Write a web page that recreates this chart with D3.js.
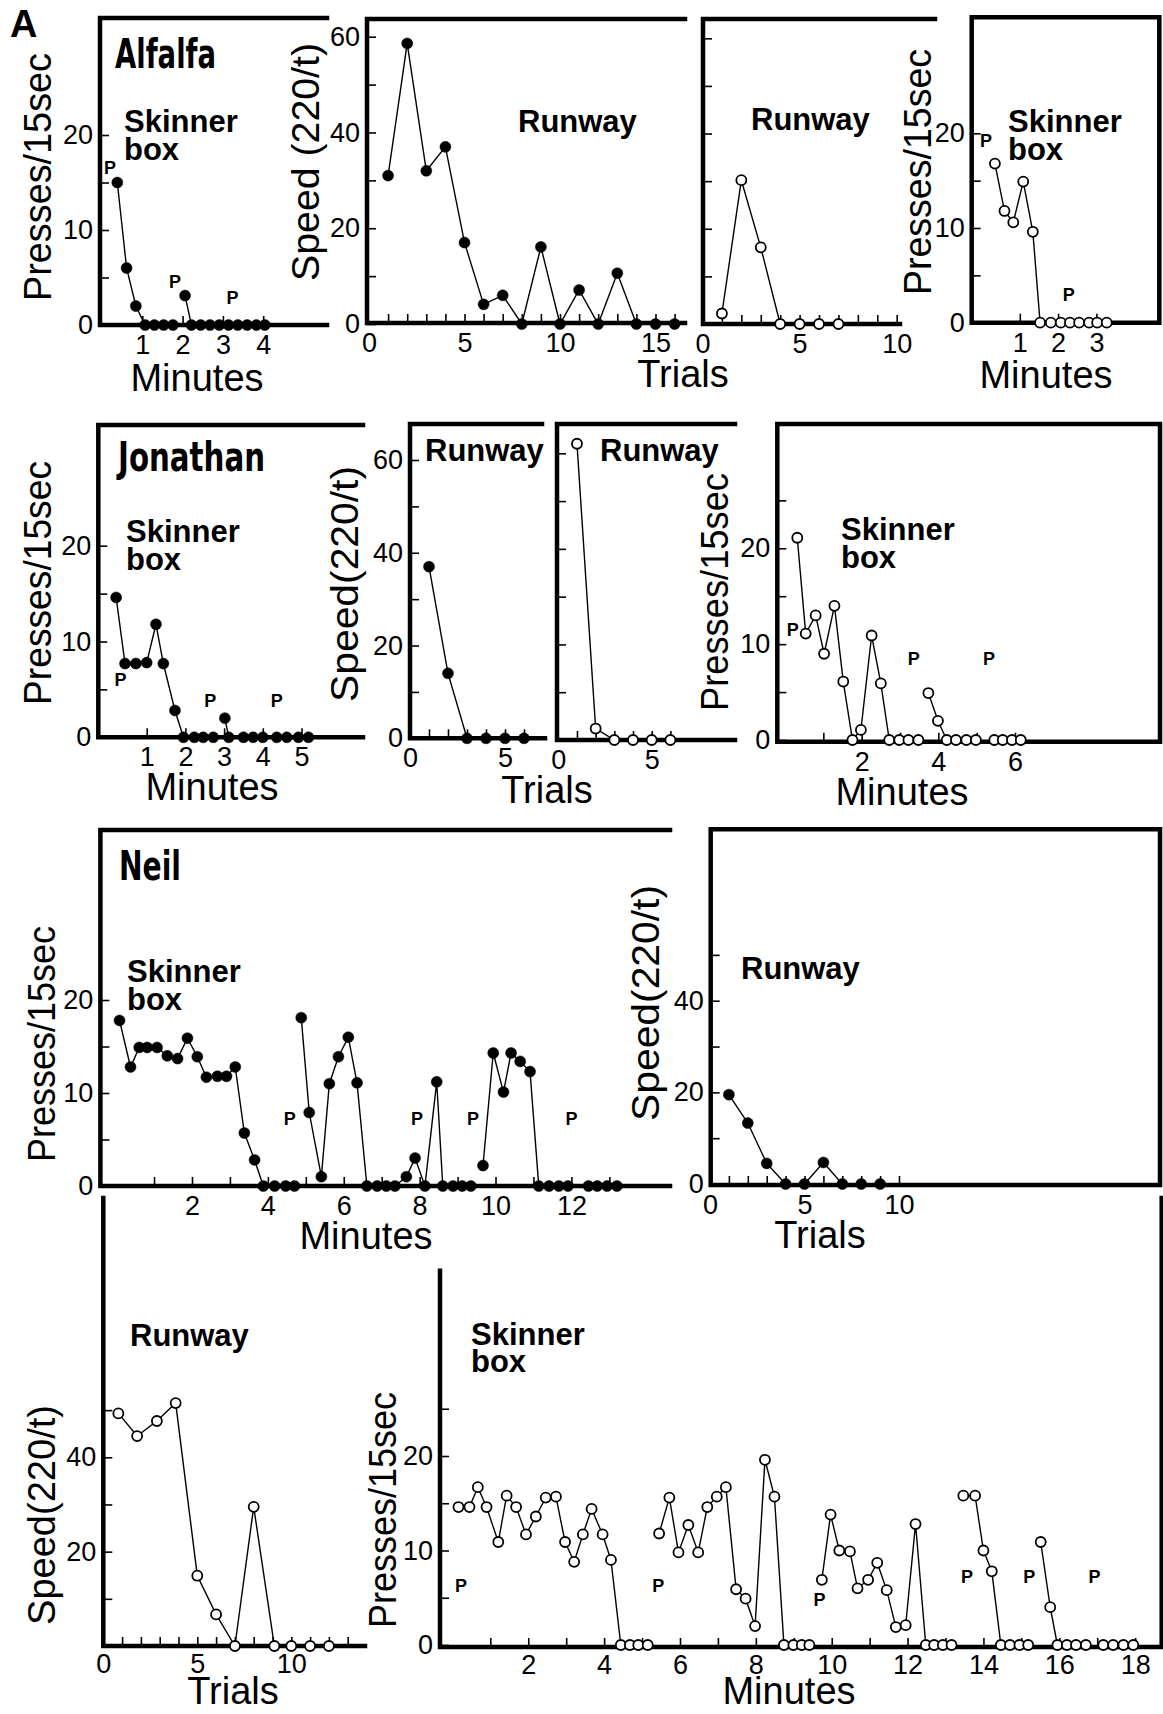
<!DOCTYPE html>
<html>
<head>
<meta charset="utf-8">
<script src="https://cdn.jsdelivr.net/npm/d3@7"></script>
<style>
  body { margin: 0; background: #fff; }
  text { font-family: "Liberation Sans", Arial, sans-serif; fill: #000; }
  .name { font-family: "Liberation Sans Narrow", "DejaVu Sans Condensed", sans-serif; font-weight: bold; font-size: 40px; }
  .lab { font-weight: bold; font-size: 31px; }
  .ttl { font-size: 38px; }
  .pm { font-weight: bold; font-size: 18px; }
</style>
</head>
<body>
<svg id="fig" width="1163" height="1714"></svg>
<script>
// ---- data ----
// skinner box: [minute, presses/15sec], null = break in the line
var alfalfaSkinner = [[0.38,15],[0.61,6],[0.84,2],[1.07,0],[1.3,0],[1.53,0],[1.76,0],null,
  [2.06,3.1],[2.22,0],[2.45,0],[2.68,0],[2.91,0],[3.14,0],[3.37,0],[3.6,0],[3.83,0],[4.04,0]];
var alfalfaSkinnerOpen = [[0.35,16.8],[0.6,11.8],[0.83,10.6],[1.09,14.9],[1.34,9.6],[1.53,0],
  [1.81,0],[2.07,0],[2.31,0],[2.55,0],[2.81,0],[3.02,0],[3.27,0]];
var jonathanSkinner = [[0.21,14.6],[0.44,7.7],[0.72,7.7],[1.0,7.8],[1.24,11.8],[1.43,7.7],[1.73,2.8],
  [1.95,0],[2.23,0],[2.46,0],[2.72,0],null,[3.02,2.0],[3.12,0],[3.5,0],[3.75,0],[4.0,0],[4.36,0],
  [4.62,0],[4.92,0],[5.18,0]];
var jonathanSkinnerOpen = [[0.32,21.1],[0.54,11.1],[0.8,13],[1.02,9],[1.29,14],[1.52,6.1],[1.76,0],
  [1.98,1.05],[2.26,10.9],[2.5,5.9],[2.72,0],[2.98,0],[3.22,0],[3.48,0],null,[3.74,4.9],[3.99,2],
  [4.22,0],[4.46,0],[4.73,0],[4.98,0],null,[5.46,0],[5.68,0],[5.92,0],[6.15,0]];
var neilSkinner = [[0.09,17.8],[0.38,12.8],[0.61,14.9],[0.82,14.9],[1.08,14.9],[1.35,14],[1.62,13.7],
  [1.88,15.9],[2.14,13.9],[2.38,11.7],[2.67,11.8],[2.91,11.8],[3.14,12.8],[3.38,5.7],[3.65,2.8],
  [3.88,0],[4.18,0],[4.47,0],[4.7,0],null,
  [4.88,18.1],[5.09,7.9],[5.41,1],[5.62,11],[5.86,13.9],[6.12,16],[6.35,11.1],[6.61,0],[6.88,0],
  [7.12,0],[7.35,0],[7.65,1],[7.88,3],[8.14,0],[8.45,11.2],[8.61,0],[8.88,0],[9.12,0],[9.35,0],null,
  [9.67,2.2],[9.94,14.3],[10.21,10.1],[10.41,14.3],[10.65,13.4],[10.91,12.3],[11.14,0],[11.41,0],
  [11.67,0],[11.91,0],null,[12.45,0],[12.68,0],[12.94,0],[13.2,0]];
var neilSkinnerOpen = [[0.16,14.6],[0.45,14.6],[0.67,16.7],[0.9,14.6],[1.21,10.9],[1.43,15.8],
  [1.68,14.6],[1.94,11.7],[2.2,13.6],[2.46,15.6],[2.73,15.7],[2.97,10.9],[3.21,8.8],[3.44,11.7],
  [3.67,14.4],[3.96,11.7],[4.18,9],[4.44,0],[4.68,0],[4.9,0],[5.15,0],null,
  [5.45,11.8],[5.72,15.6],[5.96,9.8],[6.22,12.7],[6.48,9.8],[6.72,14.6],[6.97,15.7],[7.21,16.7],
  [7.48,5.9],[7.73,4.9],[7.98,2],[8.24,19.6],[8.49,15.7],[8.74,0],[8.99,0],[9.21,0],[9.41,0],null,
  [9.74,6.9],[9.97,13.8],[10.2,10],[10.48,9.9],[10.68,6],[10.96,6.9],[11.2,8.7],[11.45,5.8],
  [11.69,1.9],[11.95,2.1],[12.21,12.8],[12.48,0],[12.7,0],[12.93,0],[13.16,0],null,
  [13.47,15.8],[13.78,15.8],[14,10],[14.22,7.8],[14.46,0],[14.7,0],[14.95,0],[15.18,0],null,
  [15.51,10.9],[15.76,4],[15.95,0],[16.2,0],[16.44,0],[16.7,0],null,
  [17.16,0],[17.42,0],[17.69,0],[17.95,0]];

// runway: speed (220/t) for trials 1, 2, 3, ...
var alfalfaRunway = [31, 58.6, 32, 37, 17, 4.1, 6, 0, 16.1, 0, 7.1, 0, 10.6, 0, 0, 0];
var alfalfaRunwayOpen = [2.2, 30.2, 16.1, 0, 0, 0, 0];
var jonathanRunway = [37, 14, 0, 0, 0, 0];
var jonathanRunwayOpen = [62, 2.4, 0, 0, 0, 0];
var neilRunway = [19.5, 13.3, 4.5, 0, 0, 4.7, 0, 0, 0];
var neilRunwayOpenTrials = [0.8, 1.8, 2.85, 3.85, 5, 6, 7, 8, 9.1, 10, 11, 12];
var neilRunwayOpen = [49.3, 44.5, 47.7, 51.5, 14.9, 6.7, 0, 29.5, 0, 0, 0, 0];

// "P" marks: [minute, presses]
var alfalfaP = [[0.2,16.5],[1.81,4.5],[3.24,2.8]];
var alfalfaOpenP = [[0.12,19.2],[2.28,2.9]];
var jonathanP = [[0.32,6],[2.64,3.8],[4.36,3.8]];
var jonathanOpenP = [[0.2,11.5],[3.36,8.4],[5.32,8.4]];
var neilP = [[4.58,7.2],[7.93,7.2],[9.41,7.2],[12.0,7.2]];
var neilOpenP = [[0.23,6.2],[5.43,6.2],[9.68,4.8],[13.57,7.2],[15.21,7.2],[16.93,7.2]];

function trials(vals, xs) {
  return vals.map(function (v, i) { return [xs ? xs[i] : i + 1, v]; });
}

var svg = d3.select('#fig');

var panels = [
  {data: alfalfaSkinner, open: false, p: alfalfaP, xd: [0, 4], xr: [102, 263.2], yd: [0, 20], yr: [325, 135],
   left: 100, bottom: 325, frame: 'M327,18H100V325H327',
   yTicks: [0, 5, 10, 15, 20], yLabels: [0, 10, 20], xTicks: [1, 2, 3, 4], xLabels: [1, 2, 3, 4]},
  {data: trials(alfalfaRunway), open: false, xd: [0, 15], xr: [369, 655.5], yd: [0, 60], yr: [324, 36.7],
   left: 367, bottom: 323, frame: 'M685,19H367V323H685',
   yTicks: d3.range(0, 61, 10), yLabels: [0, 20, 40, 60], xTicks: d3.range(1, 17), xLabels: [0, 5, 10, 15]},
  {data: trials(alfalfaRunwayOpen), open: true, xd: [0, 10], xr: [702.5, 896.7], yd: [0, 60], yr: [324, 38.3],
   left: 703, bottom: 324, frame: 'M935,19H703V324H900',
   yTicks: d3.range(10, 61, 10), yLabels: [], xTicks: d3.range(1, 11), xLabels: [0, 5, 10]},
  {data: alfalfaSkinnerOpen, open: true, p: alfalfaOpenP, xd: [0, 3], xr: [981.5, 1096.4], yd: [0, 20], yr: [322.7, 133.3],
   left: 971.7, bottom: 322.7, frame: 'M971.7,17.3H1159.3V322.7H971.7Z',
   yTicks: [0, 5, 10, 15, 20], yLabels: [0, 10, 20], xTicks: [1, 2, 3], xLabels: [1, 2, 3]},

  {data: jonathanSkinner, open: false, p: jonathanP, xd: [0, 5], xr: [108, 301.5], yd: [0, 20], yr: [737.3, 545.7],
   left: 98.3, bottom: 737.3, frame: 'M363,425H98.3V737.3H363',
   yTicks: [0, 5, 10, 15, 20], yLabels: [0, 10, 20], xTicks: [1, 2, 3, 4, 5], xLabels: [1, 2, 3, 4, 5]},
  {data: trials(jonathanRunway), open: false, xd: [0, 5], xr: [410, 505], yd: [0, 60], yr: [738.3, 460],
   left: 410, bottom: 738.3, frame: 'M542,424H410V738.3H545',
   yTicks: d3.range(0, 61, 10), yLabels: [0, 20, 40, 60], xTicks: d3.range(1, 7), xLabels: [0, 5]},
  {data: trials(jonathanRunwayOpen), open: true, xd: [0, 5], xr: [558.3, 651.7], yd: [0, 60], yr: [740, 453.3],
   left: 557, bottom: 740, frame: 'M735,424H557V740H735',
   yTicks: d3.range(10, 61, 10), yLabels: [], xTicks: d3.range(1, 7), xLabels: [0, 5]},
  {data: jonathanSkinnerOpen, open: true, p: jonathanOpenP, xd: [0, 6], xr: [785, 1015], yd: [0, 20], yr: [740, 548.3],
   left: 777.3, bottom: 741.7, frame: 'M777.3,424H1160V741.7H777.3Z',
   yTicks: [0, 5, 10, 15, 20, 25], yLabels: [0, 10, 20], xTicks: d3.range(1, 7), xLabels: [2, 4, 6]},

  {data: neilSkinner, open: false, p: neilP, xd: [0, 12], xr: [116.1, 571.4], yd: [0, 20], yr: [1186, 1000],
   left: 100.4, bottom: 1186, frame: 'M670,830H100.4V1186H670',
   yTicks: [0, 5, 10, 15, 20], yLabels: [0, 10, 20], xTicks: d3.range(1, 14), xLabels: [2, 4, 6, 8, 10, 12]},
  {data: trials(neilRunway), open: false, xd: [0, 10], xr: [710, 899], yd: [0, 40], yr: [1184, 1000.7],
   left: 710.7, bottom: 1185, frame: 'M710.7,829.3H1160V1185H710.7Z',
   yTicks: d3.range(0, 51, 10), yLabels: [0, 20, 40], xTicks: d3.range(1, 11), xLabels: [0, 5, 10]},

  {data: trials(neilRunwayOpen, neilRunwayOpenTrials), open: true, xd: [0, 10], xr: [103.3, 291.3], yd: [0, 40], yr: [1646, 1457.3],
   left: 103.3, bottom: 1646, frame: 'M103.3,1198V1646H365', pad: 6,
   yTicks: d3.range(10, 51, 10), yLabels: [20, 40], xTicks: d3.range(1, 14), xLabels: [0, 5, 10]},
  {data: neilSkinnerOpen, open: true, p: neilOpenP, xd: [0, 16], xr: [452.4, 1059.3], yd: [0, 20], yr: [1645, 1456],
   left: 440, bottom: 1647, frame: 'M440,1270.7V1647H1161.7V1198', pad: 6,
   yTicks: [0, 5, 10, 15, 20, 25], yLabels: [0, 10, 20], xTicks: d3.range(1, 19), xLabels: d3.range(2, 19, 2)}
];

function styleAxis(sel, size) {
  sel.select('.domain').remove();
  sel.attr('font-size', size).attr('font-family', '"Liberation Sans", Arial, sans-serif');
  sel.selectAll('line').attr('stroke', '#000').attr('stroke-width', 1.6);
}

panels.forEach(function (p) {
  var g = svg.append('g');
  var x = d3.scaleLinear().domain(p.xd).range(p.xr);
  var y = d3.scaleLinear().domain(p.yd).range(p.yr);

  g.append('path').attr('d', p.frame).attr('fill', 'none').attr('stroke', '#000')
    .attr('stroke-width', 4.5).attr('stroke-linecap', 'square');

  // inward ticks
  g.append('g').attr('transform', 'translate(' + p.left + ',0)')
    .call(d3.axisRight(y).tickValues(p.yTicks).tickSize(9).tickFormat(''))
    .call(styleAxis, 27);
  g.append('g').attr('transform', 'translate(0,' + p.bottom + ')')
    .call(d3.axisTop(x).tickValues(p.xTicks).tickSize(9).tickFormat(''))
    .call(styleAxis, 27);
  // tick labels
  g.append('g').attr('transform', 'translate(' + (p.left - 2) + ',0)')
    .call(d3.axisLeft(y).tickValues(p.yLabels).tickSize(0).tickPadding(5).tickFormat(d3.format('d')))
    .call(styleAxis, 27);
  g.append('g').attr('transform', 'translate(0,' + (p.bottom + 2) + ')')
    .call(d3.axisBottom(x).tickValues(p.xLabels).tickSize(0).tickPadding(p.pad || 8).tickFormat(d3.format('d')))
    .call(styleAxis, 27);

  var line = d3.line().defined(function (d) { return d; })
    .x(function (d) { return x(d[0]); }).y(function (d) { return y(d[1]); });
  g.append('path').attr('d', line(p.data)).attr('fill', 'none')
    .attr('stroke', '#000').attr('stroke-width', 1.4);

  g.selectAll('circle').data(p.data.filter(function (d) { return d; })).enter().append('circle')
    .attr('cx', function (d) { return x(d[0]); })
    .attr('cy', function (d) { return y(d[1]); })
    .attr('r', p.open ? 5 : 5.5)
    .attr('fill', p.open ? '#fff' : '#000')
    .attr('stroke', '#000').attr('stroke-width', p.open ? 1.8 : 0.5);

  if (p.p) {
    g.selectAll('text.pm').data(p.p).enter().append('text').attr('class', 'pm')
      .attr('x', function (d) { return x(d[0]); })
      .attr('y', function (d) { return y(d[1]); })
      .attr('text-anchor', 'middle').attr('dominant-baseline', 'central').text('P');
  }
});

// text labels
var labels = [
  ['A', 10, 37, 'lab', {'font-size': '38px'}],
  ['Alfalfa', 115, 68, 'name', {textLength: 101}],
  ['Jonathan', 118, 471, 'name', {textLength: 147}],
  ['Neil', 119, 880, 'name', {textLength: 62}],
  ['Skinner', 124, 132, 'lab'], ['box', 124, 160, 'lab'],
  ['Runway', 518, 132, 'lab'],
  ['Runway', 751, 130, 'lab'],
  ['Skinner', 1008, 132, 'lab'], ['box', 1008, 160, 'lab'],
  ['Skinner', 126, 542, 'lab'], ['box', 126, 570, 'lab'],
  ['Runway', 425, 461, 'lab'],
  ['Runway', 600, 461, 'lab'],
  ['Skinner', 841, 540, 'lab'], ['box', 841, 568, 'lab'],
  ['Skinner', 127, 982, 'lab'], ['box', 127, 1010, 'lab'],
  ['Runway', 741, 979, 'lab'],
  ['Runway', 130, 1346, 'lab'],
  ['Skinner', 471, 1345, 'lab'], ['box', 471, 1372, 'lab']
];
labels.forEach(function (l) {
  var t = svg.append('text').attr('class', l[3]).attr('x', l[1]).attr('y', l[2]).text(l[0]);
  if (l[4]) Object.keys(l[4]).forEach(function (k) {
    if (k === 'textLength') t.attr('textLength', l[4][k]).attr('lengthAdjust', 'spacingAndGlyphs');
    else t.style(k, l[4][k]);
  });
});

// axis titles
var xTitles = [
  ['Minutes', 197, 391], ['Trials', 683, 387], ['Minutes', 1046, 388],
  ['Minutes', 212, 800], ['Trials', 547, 803], ['Minutes', 902, 805],
  ['Minutes', 366, 1249], ['Trials', 820, 1248],
  ['Trials', 233, 1704], ['Minutes', 789, 1704]
];
xTitles.forEach(function (t) {
  svg.append('text').attr('class', 'ttl').attr('x', t[1]).attr('y', t[2])
    .attr('text-anchor', 'middle').text(t[0]);
});

// rotated titles: text, baseline x, centre y, length
var yTitles = [
  ['Presses/15sec', 51, 177, 248], ['Speed (220/t)', 319, 162, 238], ['Presses/15sec', 931, 172, 246],
  ['Presses/15sec', 51, 583, 244], ['Speed(220/t)', 358, 584, 236], ['Presses/15sec', 728, 592, 238],
  ['Presses/15sec', 55, 1044, 236], ['Speed(220/t)', 659, 1003, 236],
  ['Speed(220/t)', 55, 1515, 220], ['Presses/15sec', 396, 1510, 236]
];
yTitles.forEach(function (t) {
  svg.append('text').attr('class', 'ttl')
    .attr('transform', 'translate(' + t[1] + ',' + t[2] + ') rotate(-90)')
    .attr('text-anchor', 'middle')
    .attr('textLength', t[3]).attr('lengthAdjust', 'spacingAndGlyphs')
    .text(t[0]);
});
</script>
</body>
</html>
